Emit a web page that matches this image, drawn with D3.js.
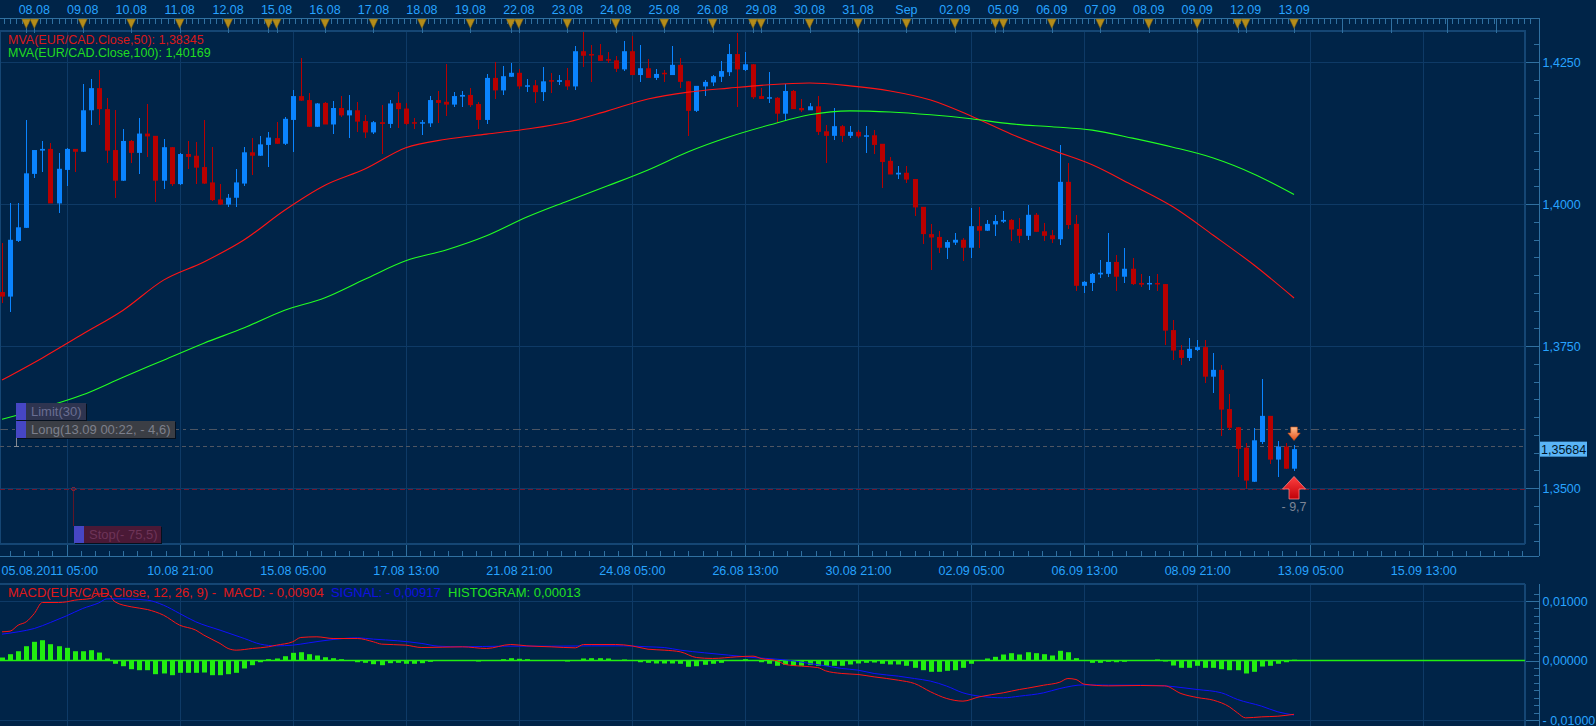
<!DOCTYPE html>
<html>
<head>
<meta charset="utf-8">
<title>EUR/CAD</title>
<script src="https://cdn.jsdelivr.net/npm/d3@7/dist/d3.min.js"></script>
<style>
  html, body { margin:0; padding:0; background:#002448; overflow:hidden; }
  svg { display:block; }
  text { font-family:"Liberation Sans", Arial, sans-serif; font-size:12.5px; white-space:pre; }
</style>
</head>
<body>
<svg id="chart" width="1596" height="726"></svg>
<script>
// 4h candles, EUR/CAD
var opens = [
  1.3845,1.3837,1.3935,1.3958,1.4053,1.4094,1.4097,1.4001,1.4060,1.4097,
  1.4092,1.4165,1.4204,1.4167,1.4095,1.4041,1.4111,1.4090,1.4124,1.4120,
  1.4041,1.4100,1.4035,1.4088,1.4085,1.4065,1.4038,1.4008,1.3999,1.4011,
  1.4036,1.4091,1.4085,1.4104,1.4116,1.4106,1.4148,1.4190,1.4183,1.4136,
  1.4178,1.4140,1.4169,1.4156,1.4165,1.4146,1.4126,1.4144,1.4141,1.4178,
  1.4168,1.4144,1.4143,1.4142,1.4183,1.4180,1.4175,1.4189,1.4192,1.4176,
  1.4148,1.4222,1.4200,1.4224,1.4231,1.4207,1.4209,1.4197,1.4218,1.4215,
  1.4218,1.4207,1.4269,1.4264,1.4262,1.4255,1.4253,1.4237,1.4269,1.4227,
  1.4239,1.4222,1.4231,1.4227,1.4245,1.4216,1.4164,1.4207,1.4214,1.4224,
  1.4232,1.4264,1.4236,1.4246,1.4190,1.4187,1.4187,1.4159,1.4199,1.4169,
  1.4165,1.4172,1.4128,1.4120,1.4137,1.4120,1.4127,1.4119,1.4121,1.4106,
  1.4076,1.4052,1.4055,1.4044,1.3995,1.3947,1.3942,1.3923,1.3932,1.3937,
  1.3923,1.3961,1.3953,1.3964,1.3969,1.3972,1.3956,1.3944,1.3981,1.3952,
  1.3945,1.3938,1.4039,1.3965,1.3856,1.3861,1.3876,1.3877,1.3898,1.3872,
  1.3886,1.3861,1.3859,1.3861,1.3859,1.3778,1.3743,1.3729,1.3743,1.3748,
  1.3696,1.3708,1.3639,1.3607,1.3571,1.3511,1.3581,1.3627,1.3550,1.3573,
  1.3534];
var highs = [
  1.3931,1.4001,1.4001,1.4148,1.4095,1.4111,1.4107,1.4089,1.4099,1.4097,
  1.4212,1.4220,1.4236,1.4186,1.4165,1.4132,1.4113,1.4151,1.4176,1.4120,
  1.4114,1.4100,1.4089,1.4111,1.4109,1.4148,1.4100,1.4035,1.4018,1.4061,
  1.4101,1.4117,1.4119,1.4127,1.4144,1.4153,1.4201,1.4257,1.4196,1.4177,
  1.4180,1.4181,1.4190,1.4192,1.4180,1.4157,1.4147,1.4174,1.4183,1.4197,
  1.4177,1.4151,1.4148,1.4190,1.4199,1.4246,1.4197,1.4199,1.4204,1.4180,
  1.4229,1.4250,1.4243,1.4248,1.4237,1.4220,1.4218,1.4241,1.4230,1.4227,
  1.4239,1.4278,1.4303,1.4280,1.4282,1.4268,1.4261,1.4287,1.4296,1.4280,
  1.4255,1.4238,1.4236,1.4278,1.4257,1.4216,1.4208,1.4218,1.4227,1.4252,
  1.4282,1.4301,1.4268,1.4246,1.4204,1.4232,1.4189,1.4212,1.4201,1.4185,
  1.4178,1.4190,1.4139,1.4169,1.4139,1.4137,1.4130,1.4137,1.4130,1.4106,
  1.4082,1.4067,1.4067,1.4044,1.3995,1.3965,1.3952,1.3937,1.3949,1.3940,
  1.3993,1.3995,1.3972,1.3981,1.3988,1.3974,1.3975,1.3998,1.3984,1.3967,
  1.3954,1.4104,1.4072,1.3981,1.3865,1.3879,1.3901,1.3949,1.3910,1.3922,
  1.3905,1.3877,1.3873,1.3877,1.3859,1.3796,1.3751,1.3764,1.3760,1.3760,
  1.3738,1.3716,1.3665,1.3607,1.3580,1.3606,1.3692,1.3627,1.3583,1.3579,
  1.3576];
var lows = [
  1.3825,1.3809,1.3933,1.3958,1.4045,1.4057,1.4001,1.3984,1.4031,1.4057,
  1.4092,1.4139,1.4139,1.4073,1.4011,1.4041,1.4073,1.4053,1.4083,1.4004,
  1.4026,1.4032,1.4034,1.4061,1.4036,1.4036,1.4006,1.3999,1.3995,1.3995,
  1.4032,1.4051,1.4085,1.4066,1.4106,1.4104,1.4092,1.4182,1.4136,1.4136,
  1.4140,1.4124,1.4153,1.4117,1.4127,1.4116,1.4123,1.4088,1.4134,1.4133,
  1.4139,1.4132,1.4121,1.4136,1.4142,1.4155,1.4170,1.4171,1.4170,1.4132,
  1.4141,1.4185,1.4192,1.4224,1.4203,1.4197,1.4178,1.4182,1.4196,1.4209,
  1.4200,1.4200,1.4242,1.4215,1.4252,1.4248,1.4233,1.4235,1.4227,1.4214,
  1.4222,1.4218,1.4215,1.4227,1.4205,1.4120,1.4162,1.4191,1.4207,1.4215,
  1.4225,1.4171,1.4235,1.4185,1.4185,1.4178,1.4143,1.4146,1.4167,1.4162,
  1.4165,1.4121,1.4073,1.4113,1.4110,1.4117,1.4117,1.4089,1.4088,1.4029,
  1.4052,1.4044,1.4037,1.3979,1.3930,1.3883,1.3914,1.3904,1.3928,1.3900,
  1.3905,1.3923,1.3953,1.3944,1.3967,1.3934,1.3932,1.3937,1.3950,1.3934,
  1.3932,1.3927,1.3956,1.3847,1.3844,1.3847,1.3870,1.3872,1.3847,1.3861,
  1.3858,1.3853,1.3849,1.3847,1.3751,1.3726,1.3717,1.3724,1.3742,1.3684,
  1.3668,1.3591,1.3602,1.3520,1.3498,1.3511,1.3578,1.3543,1.3520,1.3534,
  1.3530];
var closes = [
  1.3837,1.3937,1.3959,1.4054,1.4095,1.4097,1.4001,1.4062,1.4097,1.4092,
  1.4165,1.4204,1.4167,1.4094,1.4041,1.4111,1.4090,1.4124,1.4119,1.4041,
  1.4100,1.4035,1.4088,1.4083,1.4064,1.4036,1.4007,1.3999,1.4011,1.4038,
  1.4091,1.4085,1.4105,1.4117,1.4106,1.4150,1.4190,1.4182,1.4136,1.4177,
  1.4140,1.4169,1.4156,1.4165,1.4145,1.4126,1.4144,1.4141,1.4177,1.4167,
  1.4141,1.4143,1.4144,1.4183,1.4178,1.4175,1.4190,1.4192,1.4174,1.4148,
  1.4222,1.4200,1.4225,1.4231,1.4207,1.4209,1.4197,1.4216,1.4216,1.4218,
  1.4207,1.4269,1.4261,1.4262,1.4252,1.4253,1.4238,1.4269,1.4227,1.4239,
  1.4222,1.4229,1.4229,1.4245,1.4215,1.4164,1.4208,1.4215,1.4225,1.4234,
  1.4264,1.4237,1.4246,1.4188,1.4185,1.4188,1.4159,1.4199,1.4167,1.4165,
  1.4172,1.4127,1.4120,1.4137,1.4120,1.4127,1.4119,1.4121,1.4104,1.4074,
  1.4052,1.4055,1.4043,1.3994,1.3947,1.3941,1.3923,1.3933,1.3937,1.3923,
  1.3961,1.3953,1.3965,1.3970,1.3972,1.3955,1.3944,1.3981,1.3951,1.3944,
  1.3938,1.4039,1.3963,1.3856,1.3863,1.3877,1.3879,1.3898,1.3872,1.3886,
  1.3859,1.3858,1.3861,1.3860,1.3777,1.3742,1.3729,1.3745,1.3748,1.3696,
  1.3708,1.3638,1.3606,1.3569,1.3513,1.3584,1.3627,1.3550,1.3573,1.3534,
  1.35684];

// moving averages, read every 5 candles
var maIdx = d3.range(0, 161, 5);
var ma50 = [1.3690,1.3729,1.3771,1.3813,1.3866,1.3898,1.3937,1.3989,1.4033,1.4062,
  1.4099,1.4114,1.4123,1.4132,1.4144,1.4164,1.4185,1.4197,1.4204,1.4210,
  1.4213,1.4208,1.4199,1.4183,1.4155,1.4123,1.4095,1.4069,1.4033,1.3995,
  1.3945,1.3893,1.38345];
var ma100 = [1.3621,1.3641,1.3664,1.3695,1.3725,1.3755,1.3782,1.3813,1.3835,1.3868,
  1.3900,1.3919,1.3944,1.3977,1.4005,1.4032,1.4060,1.4092,1.4118,1.4139,
  1.4157,1.4164,1.4162,1.4157,1.4150,1.4141,1.4136,1.4130,1.4116,1.4100,
  1.4081,1.4053,1.40169];

// MACD panel
var macdIdx = [0,1,2,3,4,5,7,8,9,11, 12,13,14,16,18,20,22,24,25,27,
  28,29,31,33,34,36,37,39,41,44, 46,47,50,52,57,60,63,65,68,71,
  72,76,78,80,82,84,86,88,91,93, 94,96,97,99,101,102,104,106,108,111,
  113,115,117,119,121,124,126,127,129,131, 132,133,134,137,141,144,146,148,150,152,
  153,154,156,158,160];
var macdVal = [0.00482,0.00493,0.00594,0.00650,0.00790,0.00975,0.00975,0.00986,0.01014,0.01042,
  0.01115,0.01126,0.00986,0.00902,0.00857,0.00762,0.00594,0.00510,0.00426,0.00286,
  0.00202,0.00174,0.00202,0.00230,0.00258,0.00314,0.00387,0.00398,0.00370,0.00370,
  0.00314,0.00275,0.00258,0.00218,0.00230,0.00202,0.00269,0.00246,0.00230,0.00213,
  0.00269,0.00269,0.00246,0.00190,0.00174,0.00146,0.00050,0.00034,0.00062,0.00073,
  0.00034,-0.00006,-0.00067,-0.00095,-0.00118,-0.00174,-0.00218,-0.00235,-0.00275,-0.00331,
  -0.00387,-0.00527,-0.00639,-0.00683,-0.00611,-0.00543,-0.00487,-0.00465,-0.00415,-0.00364,
  -0.00303,-0.00319,-0.00398,-0.00426,-0.00420,-0.00426,-0.00555,-0.00622,-0.00667,-0.00779,
  -0.00880,-0.00964,-0.00947,-0.00936,-0.00904];
var sigIdx = [0,2,4,6,8,10,12,13,15,18, 20,22,24,27,30,32,34,36,38,41,
  44,46,49,52,54,57,62,68,73,77, 80,82,84,87,90,93,96,98,100,102,
  104,106,108,111,113,115,117,119,121,124, 126,129,131,134,137,141,144,146,148,151,
  153,156,158,160];
var sigVal = [0.00443,0.00482,0.00538,0.00639,0.00751,0.00874,0.00969,0.01036,0.01036,0.01014,
  0.00930,0.00790,0.00650,0.00510,0.00370,0.00275,0.00246,0.00258,0.00297,0.00353,
  0.00381,0.00359,0.00331,0.00286,0.00241,0.00230,0.00241,0.00241,0.00246,0.00246,
  0.00230,0.00218,0.00174,0.00129,0.00090,0.00050,0.00022,-0.00006,-0.00050,-0.00090,
  -0.00134,-0.00162,-0.00218,-0.00263,-0.00303,-0.00347,-0.00431,-0.00543,-0.00599,-0.00627,
  -0.00599,-0.00543,-0.00471,-0.00409,-0.00415,-0.00415,-0.00426,-0.00454,-0.00487,-0.00543,
  -0.00655,-0.00768,-0.00863,-0.00917];
var hist = [
  0.00050,0.00106,0.00156,0.00240,0.00314,0.00341,0.00274,0.00240,0.00213,0.00156,
  0.00156,0.00173,0.00134,0.00034,-0.00055,-0.00096,-0.00146,-0.00163,-0.00163,-0.00230,
  -0.00218,-0.00247,-0.00207,-0.00207,-0.00207,-0.00202,-0.00247,-0.00247,-0.00230,-0.00207,
  -0.00134,-0.00079,-0.00029,0.00022,0.00034,0.00072,0.00129,0.00139,0.00106,0.00084,
  0.00055,0.00039,0.00022,0.00000,-0.00029,-0.00039,-0.00062,-0.00079,-0.00045,-0.00039,
  -0.00055,-0.00055,-0.00045,-0.00022,0.00003,-0.00002,0.00002,-0.00003,0.00002,-0.00017,
  0.00003,0.00005,0.00022,0.00039,0.00029,0.00022,0.00003,-0.00002,0.00002,-0.00003,
  -0.00017,0.00003,0.00034,0.00039,0.00039,0.00034,0.00002,0.00017,0.00003,-0.00029,
  -0.00039,-0.00050,-0.00050,-0.00050,-0.00055,-0.00106,-0.00096,-0.00072,-0.00055,-0.00039,
  0.00002,0.00005,0.00022,0.00005,-0.00029,-0.00055,-0.00089,-0.00072,-0.00089,-0.00089,
  -0.00072,-0.00089,-0.00089,-0.00089,-0.00089,-0.00067,-0.00050,-0.00039,-0.00034,-0.00055,
  -0.00067,-0.00067,-0.00089,-0.00123,-0.00163,-0.00190,-0.00190,-0.00173,-0.00163,-0.00123,
  -0.00055,0.00002,0.00034,0.00062,0.00101,0.00123,0.00101,0.00139,0.00123,0.00106,
  0.00084,0.00163,0.00139,0.00039,0.00002,-0.00039,-0.00039,-0.00022,-0.00029,-0.00022,
  -0.00005,0.00002,-0.00002,0.00017,-0.00017,-0.00084,-0.00123,-0.00123,-0.00089,-0.00123,
  -0.00123,-0.00146,-0.00163,-0.00163,-0.00218,-0.00190,-0.00101,-0.00089,-0.00055,-0.00029,
  0.00013];

// axes
var dayLabels = ["08.08","09.08","10.08","11.08","12.08","15.08","16.08","17.08","18.08","19.08",
  "22.08","23.08","24.08","25.08","26.08","29.08","30.08","31.08","Sep","02.09",
  "05.09","06.09","07.09","08.09","09.09","12.09","13.09"];
var dayIdx = [4,10,16,22,28,34,40,46,52,58,64,70,76,82,88,94,100,106,112,118,124,130,136,142,148,154,160];
var sundayIdx = [3,33,63,93,123,153];
var futureDayIdx = [166,172,179,185];
var timeLabels = ["05.08.2011 05:00","10.08 21:00","15.08 05:00","17.08 13:00","21.08 21:00","24.08 05:00",
  "26.08 13:00","30.08 21:00","02.09 05:00","06.09 13:00","08.09 21:00","13.09 05:00","15.09 13:00"];
var timeIdx = [8,22,36,50,64,78,92,106,120,134,148,162,176];
var priceTicks = [1.35, 1.375, 1.40, 1.425];
var macdTicks = [0.01, 0, -0.01];

// open position
var entryPrice = 1.3574, limitPrice = 1.3604, stopPrice = 1.34985;
var entryTime = "13.09 00:22", entryPips = -4.6, limitPips = 30, stopPips = -75.5, livePips = -9.7;

var W = 1596, H = 726;
var plotR = 1525, axisX = 1539;
var mainTop = 31, mainBot = 544, axisY = 556;
var macdTop = 584, macdBot = 726;
var blue = "#27a3ff", gridCol = "#0e3a66", borderCol = "#154674", axisCol = "#3070a0";

var svg = d3.select("#chart");
var x = d3.scaleLinear().domain([0, 188.6]).range([2, plotR]);
var y = d3.scaleLinear().domain([1.35, 1.425]).range([488, 62]);
var ym = d3.scaleLinear().domain([-0.01, 0.01]).range([720, 601]);

function comma(v, n) { return d3.format("." + n + "f")(v).replace(".", ","); }
function signed(v, n) { return (v < 0 ? "- " : "") + comma(Math.abs(v), n); }
function px(v) { return Math.round(v) + 0.5; }

svg.append("rect").attr("width", W).attr("height", H).attr("fill", "#002448");

var defs = svg.append("defs");
defs.append("clipPath").attr("id", "clipMain").append("rect")
  .attr("x", 0).attr("y", mainTop).attr("width", plotR).attr("height", mainBot - mainTop);
defs.append("clipPath").attr("id", "clipMacd").append("rect")
  .attr("x", 0).attr("y", macdTop).attr("width", plotR).attr("height", macdBot - macdTop);
var gr = defs.append("linearGradient").attr("id", "gRed").attr("x1", 0).attr("y1", 0).attr("x2", 0).attr("y2", 1);
gr.append("stop").attr("offset", "0").attr("stop-color", "#ff4040");
gr.append("stop").attr("offset", "1").attr("stop-color", "#c00008");
var go = defs.append("linearGradient").attr("id", "gOrange").attr("x1", 0).attr("y1", 0).attr("x2", 0).attr("y2", 1);
go.append("stop").attr("offset", "0").attr("stop-color", "#ffc090");
go.append("stop").attr("offset", "1").attr("stop-color", "#e8501a");

// ---- grid ----
var grid = svg.append("g").attr("stroke", gridCol).attr("shape-rendering", "crispEdges");
grid.selectAll(".vm").data(timeIdx).enter().append("line")
  .attr("x1", d => px(x(d))).attr("x2", d => px(x(d)))
  .attr("y1", mainTop).attr("y2", mainBot);
grid.selectAll(".vb").data(timeIdx).enter().append("line")
  .attr("x1", d => px(x(d))).attr("x2", d => px(x(d)))
  .attr("y1", macdTop).attr("y2", macdBot);
grid.selectAll(".hm").data(priceTicks).enter().append("line")
  .attr("x1", 0).attr("x2", plotR).attr("y1", d => px(y(d))).attr("y2", d => px(y(d)));
grid.selectAll(".hb").data([0.01, -0.01]).enter().append("line")
  .attr("x1", 0).attr("x2", plotR).attr("y1", d => px(ym(d))).attr("y2", d => px(ym(d)));

// ---- borders & axis lines ----
var frame = svg.append("g").attr("shape-rendering", "crispEdges");
frame.append("line").attr("x1", 0).attr("x2", plotR + 1).attr("y1", mainTop).attr("y2", mainTop).attr("stroke", borderCol).attr("stroke-width", 2);
frame.append("line").attr("x1", 0).attr("x2", plotR).attr("y1", mainBot).attr("y2", mainBot).attr("stroke", borderCol).attr("stroke-width", 2);
frame.append("line").attr("x1", plotR).attr("x2", plotR).attr("y1", mainTop).attr("y2", mainBot).attr("stroke", borderCol).attr("stroke-width", 2);
frame.append("line").attr("x1", 0.5).attr("x2", 0.5).attr("y1", mainTop).attr("y2", mainBot).attr("stroke", borderCol);
frame.append("line").attr("x1", 0).attr("x2", axisX).attr("y1", axisY + 0.5).attr("y2", axisY + 0.5).attr("stroke", axisCol);
frame.append("line").attr("x1", axisX + 0.5).attr("x2", axisX + 0.5).attr("y1", 18).attr("y2", axisY).attr("stroke", axisCol);
frame.append("line").attr("x1", 0).attr("x2", plotR).attr("y1", macdTop).attr("y2", macdTop).attr("stroke", borderCol).attr("stroke-width", 2);
frame.append("line").attr("x1", plotR).attr("x2", plotR).attr("y1", macdTop).attr("y2", macdBot).attr("stroke", borderCol).attr("stroke-width", 2);
frame.append("line").attr("x1", axisX + 0.5).attr("x2", axisX + 0.5).attr("y1", macdTop).attr("y2", macdBot).attr("stroke", axisCol);

// ---- top date bar ----
var topBar = svg.append("g");
topBar.append("line").attr("x1", 0).attr("x2", axisX).attr("y1", 18.5).attr("y2", 18.5)
  .attr("stroke", axisCol).attr("shape-rendering", "crispEdges");
topBar.selectAll(".rt").data(d3.range(0.25, 190, 0.75)).enter().append("line")
  .attr("x1", d => px(x(d))).attr("x2", d => px(x(d))).attr("y1", 18).attr("y2", 24)
  .attr("stroke", axisCol).attr("shape-rendering", "crispEdges");
var markers = dayIdx.concat(sundayIdx);
topBar.selectAll(".mk").data(markers.concat(futureDayIdx)).enter().append("line")
  .attr("x1", d => px(x(d))).attr("x2", d => px(x(d))).attr("y1", 18).attr("y2", 33)
  .attr("stroke", axisCol).attr("shape-rendering", "crispEdges");
topBar.selectAll(".tri").data(markers).enter().append("path")
  .attr("d", function(d) { var c = x(d); return "M" + (c - 4.5) + ",19L" + (c + 4.5) + ",19L" + c + ",28.5Z"; })
  .attr("fill", "#b48c1a").attr("stroke", "#6e560e").attr("stroke-width", 0.5);
topBar.selectAll(".dl").data(dayLabels).enter().append("text")
  .attr("x", (d, i) => x(dayIdx[i])).attr("y", 13.5).attr("text-anchor", "middle")
  .attr("fill", blue).text(d => d);

// ---- order levels ----
var main = svg.append("g").attr("clip-path", "url(#clipMain)");
main.append("line").attr("x1", 0).attr("x2", plotR).attr("y1", px(y(limitPrice))).attr("y2", px(y(limitPrice)))
  .attr("stroke", "#4c5563").attr("stroke-dasharray", "8,4,3,4").attr("shape-rendering", "crispEdges");
main.append("line").attr("x1", 0).attr("x2", plotR).attr("y1", px(y(entryPrice))).attr("y2", px(y(entryPrice)))
  .attr("stroke", "#505662").attr("stroke-dasharray", "4,3").attr("shape-rendering", "crispEdges");
main.append("line").attr("x1", 0).attr("x2", plotR).attr("y1", px(y(stopPrice))).attr("y2", px(y(stopPrice)))
  .attr("stroke", "#6e1830").attr("stroke-dasharray", "5,3").attr("shape-rendering", "crispEdges");

// ---- candles ----
var idx = d3.range(opens.length);
var candles = main.append("g");
candles.selectAll(".wick").data(idx).enter().append("line")
  .attr("x1", i => px(x(i))).attr("x2", i => px(x(i)))
  .attr("y1", i => y(Math.max(highs[i], opens[i], closes[i])))
  .attr("y2", i => y(Math.min(lows[i], opens[i], closes[i])))
  .attr("stroke", i => closes[i] >= opens[i] ? "#0a84ff" : "#b80000")
  .attr("shape-rendering", "crispEdges");
candles.selectAll(".body").data(idx).enter().append("rect")
  .attr("x", i => Math.round(x(i)) - 2).attr("width", 5)
  .attr("y", i => y(Math.max(opens[i], closes[i])))
  .attr("height", i => Math.max(1.5, Math.abs(y(opens[i]) - y(closes[i]))))
  .attr("fill", i => closes[i] >= opens[i] ? "#0a84ff" : "#b80000");

// ---- moving averages ----
var maLine = d3.line().x((d, k) => x(maIdx[k])).y(d => y(d)).curve(d3.curveMonotoneX);
main.append("path").attr("d", maLine(ma50)).attr("fill", "none").attr("stroke", "#ff1414").attr("stroke-width", 1.1);
main.append("path").attr("d", maLine(ma100)).attr("fill", "none").attr("stroke", "#22ff22").attr("stroke-width", 1.1);

// ---- position markers on the last candle ----
var last = opens.length - 1, cx = x(last);
var tipUp = y(lows[last]) + 5.5, tipDn = y(highs[last]) - 4.3;
main.append("path")
  .attr("d", "M" + cx + "," + tipUp + "L" + (cx + 11.5) + "," + (tipUp + 12.5) + "L" + (cx + 5) + "," + (tipUp + 12.5) +
    "L" + (cx + 5) + "," + (tipUp + 22.5) + "L" + (cx - 5) + "," + (tipUp + 22.5) + "L" + (cx - 5) + "," + (tipUp + 12.5) +
    "L" + (cx - 11.5) + "," + (tipUp + 12.5) + "Z")
  .attr("fill", "url(#gRed)").attr("stroke", "#ff8080").attr("stroke-width", 0.8);
main.append("path")
  .attr("d", "M" + (cx - 3.3) + "," + (tipDn - 13.5) + "L" + (cx + 3.3) + "," + (tipDn - 13.5) + "L" + (cx + 3.3) + "," + (tipDn - 7.5) +
    "L" + (cx + 6.2) + "," + (tipDn - 7.5) + "L" + cx + "," + tipDn + "L" + (cx - 6.2) + "," + (tipDn - 7.5) +
    "L" + (cx - 3.3) + "," + (tipDn - 7.5) + "Z")
  .attr("fill", "url(#gOrange)").attr("stroke", "#c84a10").attr("stroke-width", 0.6);
main.append("text").attr("x", cx).attr("y", tipUp + 34.5).attr("text-anchor", "middle")
  .attr("fill", "#7d8595").text(signed(livePips, 1));

// ---- order labels ----
var yl = y(limitPrice), ye = y(entryPrice), ys = y(stopPrice);
var lab = svg.append("g").attr("shape-rendering", "crispEdges");
lab.append("line").attr("x1", 16.5).attr("x2", 16.5).attr("y1", yl).attr("y2", ye).attr("stroke", "#858a92");
lab.append("line").attr("x1", 14).attr("x2", 19).attr("y1", Math.round(ye) + 0.5).attr("y2", Math.round(ye) + 0.5).attr("stroke", "#858a92");
lab.append("line").attr("x1", 73.5).attr("x2", 73.5).attr("y1", ys).attr("y2", mainBot - 18).attr("stroke", "#5e1628");
lab.append("circle").attr("cx", 73.5).attr("cy", ys).attr("r", 1.8).attr("fill", "none").attr("stroke", "#7a2238");
function orderBox(x0, y0, w, h, bg, fg, txt) {
  lab.append("rect").attr("x", x0 + 1).attr("y", y0 + 1).attr("width", w).attr("height", h).attr("fill", "#05101e");
  lab.append("rect").attr("x", x0).attr("y", y0).attr("width", w).attr("height", h).attr("fill", bg);
  lab.append("rect").attr("x", x0).attr("y", y0).attr("width", 10).attr("height", h).attr("fill", "#4646c4");
  lab.append("text").attr("x", x0 + 15).attr("y", y0 + h / 2 + 4.5).attr("fill", fg)
    .style("font-size", "13px").text(txt);
}
orderBox(16, Math.round(yl) - 26, 70, 17, "#2e3450", "#6a6e92", "Limit(" + limitPips + ")");
orderBox(16, Math.round(yl) - 8, 159, 17, "#3b3e45", "#7d808c", "Long(" + entryTime + ", " + signed(entryPips, 1) + ")");
orderBox(74, mainBot - 18, 87, 17, "#4a1936", "#6e3458", "Stop(" + signed(stopPips, 1) + ")");

// ---- MA legend ----
svg.append("text").attr("x", 8).attr("y", 43.5).attr("fill", "#d81818")
  .text("MVA(EUR/CAD.Close,50): " + comma(ma50[ma50.length - 1], 5));
svg.append("text").attr("x", 8).attr("y", 56.5).attr("fill", "#20dd20")
  .text("MVA(EUR/CAD.Close,100): " + comma(ma100[ma100.length - 1], 5));

// ---- price axis ----
function styleAxis(g) {
  g.select(".domain").remove();
  g.selectAll("line").attr("stroke", axisCol).attr("shape-rendering", "crispEdges");
  g.selectAll("text").attr("fill", blue);
}
svg.append("g").attr("transform", "translate(" + (axisX + 0.5) + ",0)")
  .call(d3.axisRight(y).tickValues(d3.range(-3, 26).map(k => 1.35 + k * 0.003125)).tickSize(-6).tickFormat(""))
  .call(styleAxis);
svg.append("g").attr("transform", "translate(" + (axisX + 0.5) + ",0)")
  .call(d3.axisRight(y).tickValues(priceTicks).tickFormat(d => comma(d, 4)).tickSizeInner(-14).tickSizeOuter(0).tickPadding(3))
  .call(styleAxis);

// last price tag
var lp = closes[last];
svg.append("rect").attr("x", axisX + 1).attr("y", y(lp) - 7.5).attr("width", 47).attr("height", 15).attr("fill", "#5ab4f6");
svg.append("text").attr("x", axisX + 2).attr("y", y(lp) + 4.5).attr("fill", "#001428").text(comma(lp, 5));

// ---- time axis ----
svg.append("g").attr("transform", "translate(0," + (axisY + 0.5) + ")")
  .call(d3.axisBottom(x).tickValues(d3.range(1, 190, 1.75)).tickSize(-6).tickFormat(""))
  .call(styleAxis);
var tAxis = svg.append("g").attr("transform", "translate(0," + (axisY + 0.5) + ")")
  .call(d3.axisBottom(x).tickValues(timeIdx).tickFormat((d, i) => timeLabels[i]).tickSizeInner(-12).tickSizeOuter(0).tickPadding(9.5))
  .call(styleAxis);
tAxis.select(".tick text").attr("text-anchor", "start").attr("x", -x(timeIdx[0]) + 1);

// ---- MACD ----
var macdG = svg.append("g").attr("clip-path", "url(#clipMacd)");
macdG.selectAll(".hbar").data(hist).enter().append("rect")
  .attr("x", (d, i) => Math.round(x(i)) - 2).attr("width", 5)
  .attr("y", d => Math.min(ym(0), ym(d)))
  .attr("height", d => Math.abs(ym(d) - ym(0)))
  .attr("fill", "#22ee10");
macdG.append("line").attr("x1", 0).attr("x2", plotR).attr("y1", ym(0)).attr("y2", ym(0))
  .attr("stroke", "#22ee10").attr("stroke-width", 1.5);
var macdLine = d3.line().x(d => x(d[0])).y(d => ym(d[1])).curve(d3.curveMonotoneX);
macdG.append("path").attr("d", macdLine(sigIdx.map((d, k) => [d, sigVal[k]])))
  .attr("fill", "none").attr("stroke", "#1010ff").attr("stroke-width", 1);
macdG.append("path").attr("d", macdLine(macdIdx.map((d, k) => [d, macdVal[k]])))
  .attr("fill", "none").attr("stroke", "#ff1414").attr("stroke-width", 1);

svg.append("g").attr("transform", "translate(" + (axisX + 0.5) + ",0)")
  .call(d3.axisRight(ym).tickValues(d3.range(-8, 10).map(k => k * 0.00125)).tickSize(-6).tickFormat(""))
  .call(styleAxis);
svg.append("g").attr("transform", "translate(" + (axisX + 0.5) + ",0)")
  .call(d3.axisRight(ym).tickValues(macdTicks).tickFormat(d => signed(d, 5)).tickSizeInner(-14).tickSizeOuter(0).tickPadding(3))
  .call(styleAxis);

var leg = svg.append("text").attr("x", 8).attr("y", 596.5).style("font-size", "13px");
leg.append("tspan").attr("fill", "#e01818").text("MACD(EUR/CAD.Close, 12, 26, 9) -  MACD: " + signed(macdVal[macdVal.length - 1], 5) + "  ");
leg.append("tspan").attr("fill", "#1010e0").text("SIGNAL: " + signed(sigVal[sigVal.length - 1], 5) + "  ");
leg.append("tspan").attr("fill", "#20e020").text("HISTOGRAM: " + signed(hist[hist.length - 1], 5));
</script>
</body>
</html>
